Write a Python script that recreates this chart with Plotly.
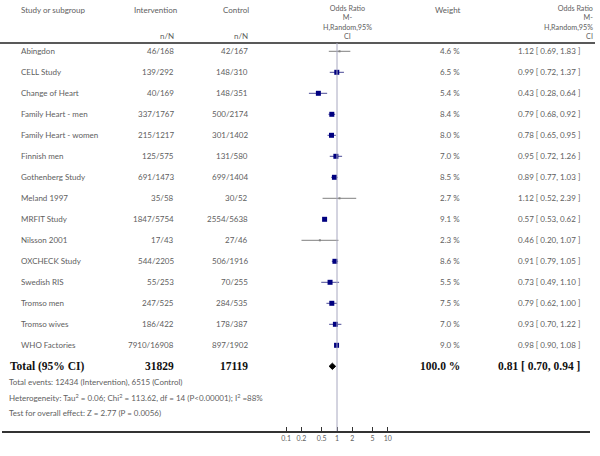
import plotly.graph_objects as go

studies = ["Abingdon", "CELL Study", "Change of Heart", "Family Heart - men", "Family Heart - women",
           "Finnish men", "Gothenberg Study", "Meland 1997", "MRFIT Study", "Nilsson 2001",
           "OXCHECK Study", "Swedish RIS", "Tromso men", "Tromso wives", "WHO Factories"]
interv = ["46/168", "139/292", "40/169", "337/1767", "215/1217", "125/575", "691/1473", "35/58",
          "1847/5754", "17/43", "544/2205", "55/253", "247/525", "186/422", "7910/16908"]
control = ["42/167", "148/310", "148/351", "500/2174", "301/1402", "131/580", "699/1404", "30/52",
           "2554/5638", "27/46", "506/1916", "70/255", "284/535", "178/387", "897/1902"]
weights = [4.6, 6.5, 5.4, 8.4, 8.0, 7.0, 8.5, 2.7, 9.1, 2.3, 8.6, 5.5, 7.5, 7.0, 9.0]
or_est = [1.12, 0.99, 0.43, 0.79, 0.78, 0.95, 0.89, 1.12, 0.57, 0.46, 0.91, 0.73, 0.79, 0.93, 0.98]
ci_lo = [0.69, 0.72, 0.28, 0.68, 0.65, 0.72, 0.77, 0.52, 0.53, 0.20, 0.79, 0.49, 0.62, 0.70, 0.90]
ci_hi = [1.83, 1.37, 0.64, 0.92, 0.95, 1.26, 1.03, 2.39, 0.62, 1.07, 1.05, 1.10, 1.00, 1.22, 1.08]

total_label = "Total (95% CI)"
total_interv = "31829"
total_control = "17119"
total_weight = 100.0
total_or, total_lo, total_hi = 0.81, 0.70, 0.94

footer = ["Total events: 12434 (Intervention), 6515 (Control)",
          "Heterogeneity: Tau<sup>2</sup> = 0.06; Chi<sup>2</sup> = 113.62, df = 14 (P<0.00001); I<sup>2</sup> =88%",
          "Test for overall effect: Z = 2.77 (P = 0.0056)"]

or_header = ["Odds Ratio", "M-", "H,Random,95%", "CI"]

tick_vals = [0.1, 0.2, 0.5, 1, 2, 5, 10]
tick_text = ["0.1", "0.2", "0.5", "1", "2", "5", "10"]

W, H = 600, 456
FONT = "Lato"
TXT = "#606060"
NAVY = "#000080"

# geometry helpers (pixel layout)
ROW0, ROWH = 51.3, 21.0
AX_BOTTOM = 431
X_LEFT, X_RIGHT = 2, 590
ONE_PX, DEC_PX = 337, 50.8

def px2x(p):
    return p / W

def rowpix_to_val(p):
    return (p - ROW0) / ROWH

xr0 = -(ONE_PX - X_LEFT) / DEC_PX
xr1 = xr0 + (X_RIGHT - X_LEFT) / DEC_PX
yr_top = rowpix_to_val(0)
yr_bot = rowpix_to_val(AX_BOTTOM)

fig = go.Figure()

n = len(studies)
small = [w < 5 for w in weights]

# CI lines
for grp, col in [(True, "#808080"), (False, "#4a4a96")]:
    xs, ys = [], []
    for i in range(n):
        if small[i] == grp:
            xs += [ci_lo[i], ci_hi[i], None]
            ys += [i, i, None]
    fig.add_trace(go.Scatter(x=xs, y=ys, mode="lines", line=dict(color=col, width=1),
                             hoverinfo="skip", showlegend=False))

# markers
fig.add_trace(go.Scatter(x=[or_est[i] for i in range(n) if not small[i]],
                         y=[i for i in range(n) if not small[i]],
                         mode="markers", marker=dict(symbol="square", size=5, color=NAVY),
                         showlegend=False))
fig.add_trace(go.Scatter(x=[or_est[i] for i in range(n) if small[i]],
                         y=[i for i in range(n) if small[i]],
                         mode="markers", marker=dict(symbol="square", size=2, color="#808080"),
                         showlegend=False))

# diamond
ty = n
fig.add_trace(go.Scatter(x=[total_lo, total_or, total_hi, total_or, total_lo],
                         y=[ty, ty - 0.15, ty, ty + 0.15, ty],
                         mode="lines", fill="toself", fillcolor="black",
                         line=dict(color="black", width=1), showlegend=False))

ann = []
def add(text, xp, y, anchor="left", yref="y", size=8, color=TXT, family=FONT, align="left"):
    ann.append(dict(text=text, x=px2x(xp), xref="paper", y=y, yref=yref, xanchor=anchor,
                    yanchor="middle", showarrow=False, align=align,
                    font=dict(size=size, color=color, family=family)))

for i in range(n):
    add(studies[i], 19, i)
    add(interv[i], 176, i, "right")
    add(control[i], 250, i, "right")
    add(f"{weights[i]:.1f} %", 462, i, "right")
    add(f"{or_est[i]:.2f} [ {ci_lo[i]:.2f}, {ci_hi[i]:.2f} ]", 582, i, "right")

SERIF = "Liberation Serif"
add("<b>" + total_label + "</b>", 8, ty, size=11.5, color="#111111", family=SERIF)
add("<b>" + total_interv + "</b>", 176, ty, "right", size=11.5, color="#111111", family=SERIF)
add("<b>" + total_control + "</b>", 250, ty, "right", size=11.5, color="#111111", family=SERIF)
add(f"<b>{total_weight:.1f} %</b>", 462, ty, "right", size=11.5, color="#111111", family=SERIF)
add(f"<b>{total_or:.2f} [ {total_lo:.2f}, {total_hi:.2f} ]</b>", 582, ty, "right", size=11.5,
    color="#111111", family=SERIF)

for k, t in enumerate(footer):
    add(t, 7, rowpix_to_val(382 + 15.5 * k))

def hy(p):
    return rowpix_to_val(p)
add("Study or subgroup", 19, hy(10))
add("Intervention", 155, hy(10), "center")
add("Control", 236, hy(10), "center")
add("n/N", 176, hy(36), "right")
add("n/N", 250, hy(36), "right")
add("Weight", 448, hy(10), "center")
hdr = "<br>".join(or_header)
add(hdr, 347, hy(22.5), "center", size=7.2, align="center")
add(hdr, 595, hy(22.5), "right", size=7.2, align="right")

shapes = [
    dict(type="line", xref="paper", yref="y", x0=0, x1=px2x(595), y0=hy(43), y1=hy(43),
         line=dict(color="#222222", width=1.5)),
    dict(type="line", xref="x", yref="y", x0=1, x1=1, y0=hy(43), y1=yr_bot,
         line=dict(color="#a8a8c0", width=1)),
]

fig.update_layout(
    width=W, height=H, margin=dict(l=0, r=0, t=0, b=0),
    paper_bgcolor="white", plot_bgcolor="white",
    annotations=ann, shapes=shapes, showlegend=False,
    xaxis=dict(type="log", range=[xr0, xr1], domain=[X_LEFT / W, X_RIGHT / W],
               tickvals=tick_vals, ticktext=tick_text, ticks="inside", ticklen=4,
               tickcolor="#333333", tickwidth=1, showline=True, linecolor="#333333",
               linewidth=1.5, showgrid=False, zeroline=False,
               tickfont=dict(size=7, color=TXT, family=FONT)),
    yaxis=dict(range=[yr_bot, yr_top], domain=[(H - AX_BOTTOM) / H, 1], visible=False,
               showgrid=False, zeroline=False),
)

fig.write_html("out.html", config={"displayModeBar": False},
               post_script="document.body.style.margin='0';document.body.style.overflow='hidden';")
